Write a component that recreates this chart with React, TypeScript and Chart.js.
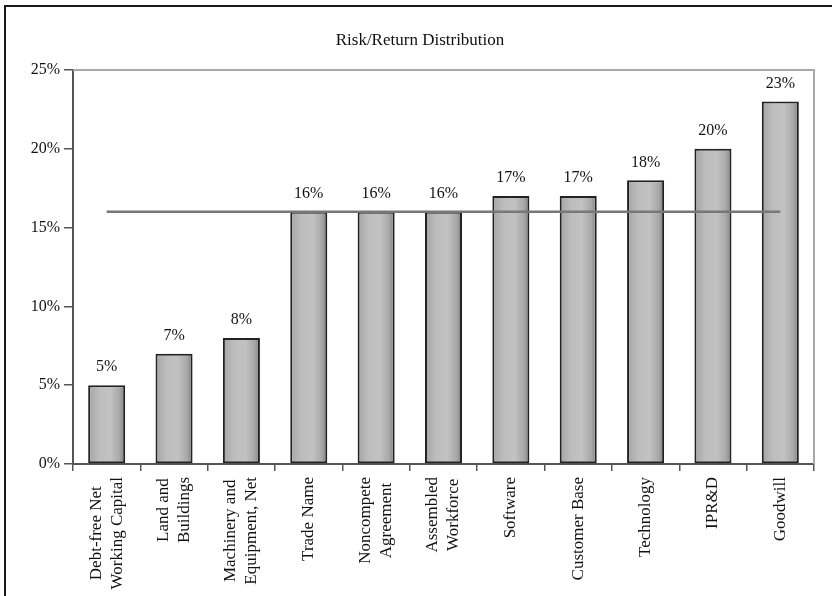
import React, { useEffect, useRef } from "react";
import { Chart, registerables } from "chart.js";

Chart.register(...registerables);

const chartTitle = "Risk/Return Distribution";
const categories: string[][] = [
  ["Debt-free Net", "Working Capital"],
  ["Land and", "Buildings"],
  ["Machinery and", "Equipment, Net"],
  ["Trade Name"],
  ["Noncompete", "Agreement"],
  ["Assembled", "Workforce"],
  ["Software"],
  ["Customer Base"],
  ["Technology"],
  ["IPR&D"],
  ["Goodwill"],
];
const returnRates = [5, 7, 8, 16, 16, 16, 17, 17, 18, 20, 23];
const waccLine = [16, 16, 16, 16, 16, 16, 16, 16, 16, 16, 16];
const yMin = 0;
const yMax = 25;
const yStep = 5;

const SERIF = '"Liberation Serif", "Times New Roman", "DejaVu Serif", serif';
const BAR_PCT = 0.55;

const decorPlugin = {
  id: "decor",
  beforeDatasetsDraw(chart: any) {
    const { ctx, chartArea } = chart;
    ctx.save();
    ctx.strokeStyle = "#a8a8a8";
    ctx.lineWidth = 2;
    ctx.beginPath();
    ctx.moveTo(chartArea.left, chartArea.top);
    ctx.lineTo(chartArea.right, chartArea.top);
    ctx.lineTo(chartArea.right, chartArea.bottom);
    ctx.stroke();
    ctx.restore();
  },
  afterDraw(chart: any) {
    const { ctx, chartArea } = chart;
    ctx.save();
    // title
    ctx.fillStyle = "#111";
    ctx.font = `17px ${SERIF}`;
    ctx.textAlign = "center";
    ctx.textBaseline = "middle";
    ctx.fillText(chartTitle, 420, 41);

    // value labels
    ctx.font = `16px ${SERIF}`;
    const meta = chart.getDatasetMeta(0);
    meta.data.forEach((el: any, i: number) => {
      ctx.fillText(returnRates[i] + "%", el.x, el.y - 18);
    });

    // rotated category labels
    const xs = chart.scales.x;
    ctx.font = `17px ${SERIF}`;
    const lh = 21;
    const topY = chartArea.bottom + 13;
    categories.forEach((lines, i) => {
      const cx = xs.getPixelForValue(i);
      const w = Math.max(...lines.map((l) => ctx.measureText(l).width));
      const midY = topY + w / 2;
      lines.forEach((line, j) => {
        const x = cx + (j - (lines.length - 1) / 2) * lh;
        ctx.save();
        ctx.translate(x, midY);
        ctx.rotate(-Math.PI / 2);
        ctx.textAlign = "center";
        ctx.textBaseline = "middle";
        ctx.fillText(line, 0, 0);
        ctx.restore();
      });
    });
    ctx.restore();
  },
};

export default function App() {
  const canvasRef = useRef<HTMLCanvasElement | null>(null);

  useEffect(() => {
    if (!canvasRef.current) return;
    const chart = new Chart(canvasRef.current, {
      type: "bar",
      data: {
        labels: categories.map((c) => c.join(" ")),
        datasets: [
          {
            type: "bar",
            data: returnRates,
            order: 2,
            barPercentage: BAR_PCT,
            categoryPercentage: 1,
            borderColor: "#222222",
            borderWidth: 2,
            borderSkipped: false,
            backgroundColor: (c: any) => {
              const ch = c.chart;
              const xs = ch.scales && ch.scales.x;
              if (!xs || !ch.chartArea || c.dataIndex === undefined) return "#b0b0b0";
              const cx = xs.getPixelForValue(c.dataIndex);
              const half = ((xs.width / categories.length) * BAR_PCT) / 2;
              const g = ch.ctx.createLinearGradient(cx - half, 0, cx + half, 0);
              g.addColorStop(0, "#a4a4a4");
              g.addColorStop(0.3, "#bdbdbd");
              g.addColorStop(0.6, "#c2c2c2");
              g.addColorStop(0.85, "#a8a8a8");
              g.addColorStop(1, "#7e7e7e");
              return g;
            },
          } as any,
          {
            type: "line",
            data: waccLine,
            order: 1,
            borderColor: "#777777",
            borderWidth: 2.5,
            pointRadius: 0,
            fill: false,
            tension: 0,
          } as any,
        ],
      },
      options: {
        animation: false,
        responsive: false,
        maintainAspectRatio: false,
        layout: { padding: { left: 0, right: 18, top: 70, bottom: 0 } },
        plugins: {
          legend: { display: false },
          title: { display: false },
          tooltip: { enabled: false },
        },
        scales: {
          x: {
            grid: {
              display: true,
              drawOnChartArea: false,
              drawTicks: true,
              tickLength: 7,
              color: "#555555",
              lineWidth: 1.5,
              offset: true,
            },
            border: { display: true, color: "#555555", width: 2 },
            ticks: { display: false, autoSkip: false },
            afterFit: (s: any) => {
              s.height = 132;
            },
          },
          y: {
            min: yMin,
            max: yMax,
            grid: {
              drawOnChartArea: false,
              drawTicks: true,
              tickLength: 9,
              color: "#555555",
              lineWidth: 1.5,
            },
            border: { display: true, color: "#555555", width: 2 },
            ticks: {
              stepSize: yStep,
              padding: 4,
              color: "#111",
              font: { family: SERIF, size: 16 },
              callback: (v: any) => v + "%",
            },
            afterFit: (s: any) => {
              s.width = 73;
            },
          },
        },
      },
      plugins: [decorPlugin],
    });
    return () => chart.destroy();
  }, []);

  return (
    <div
      style={{
        position: "fixed",
        left: 0,
        top: 0,
        width: 832,
        height: 596,
        overflow: "hidden",
        background: "#fff",
      }}
    >
      <div
        style={{
          position: "absolute",
          left: 4,
          top: 5,
          width: 900,
          height: 700,
          borderLeft: "2px solid #1a1a1a",
          borderTop: "2px solid #1a1a1a",
        }}
      />
      <canvas
        ref={canvasRef}
        width={832}
        height={596}
        style={{ position: "absolute", left: 0, top: 0, width: 832, height: 596 }}
      />
    </div>
  );
}
